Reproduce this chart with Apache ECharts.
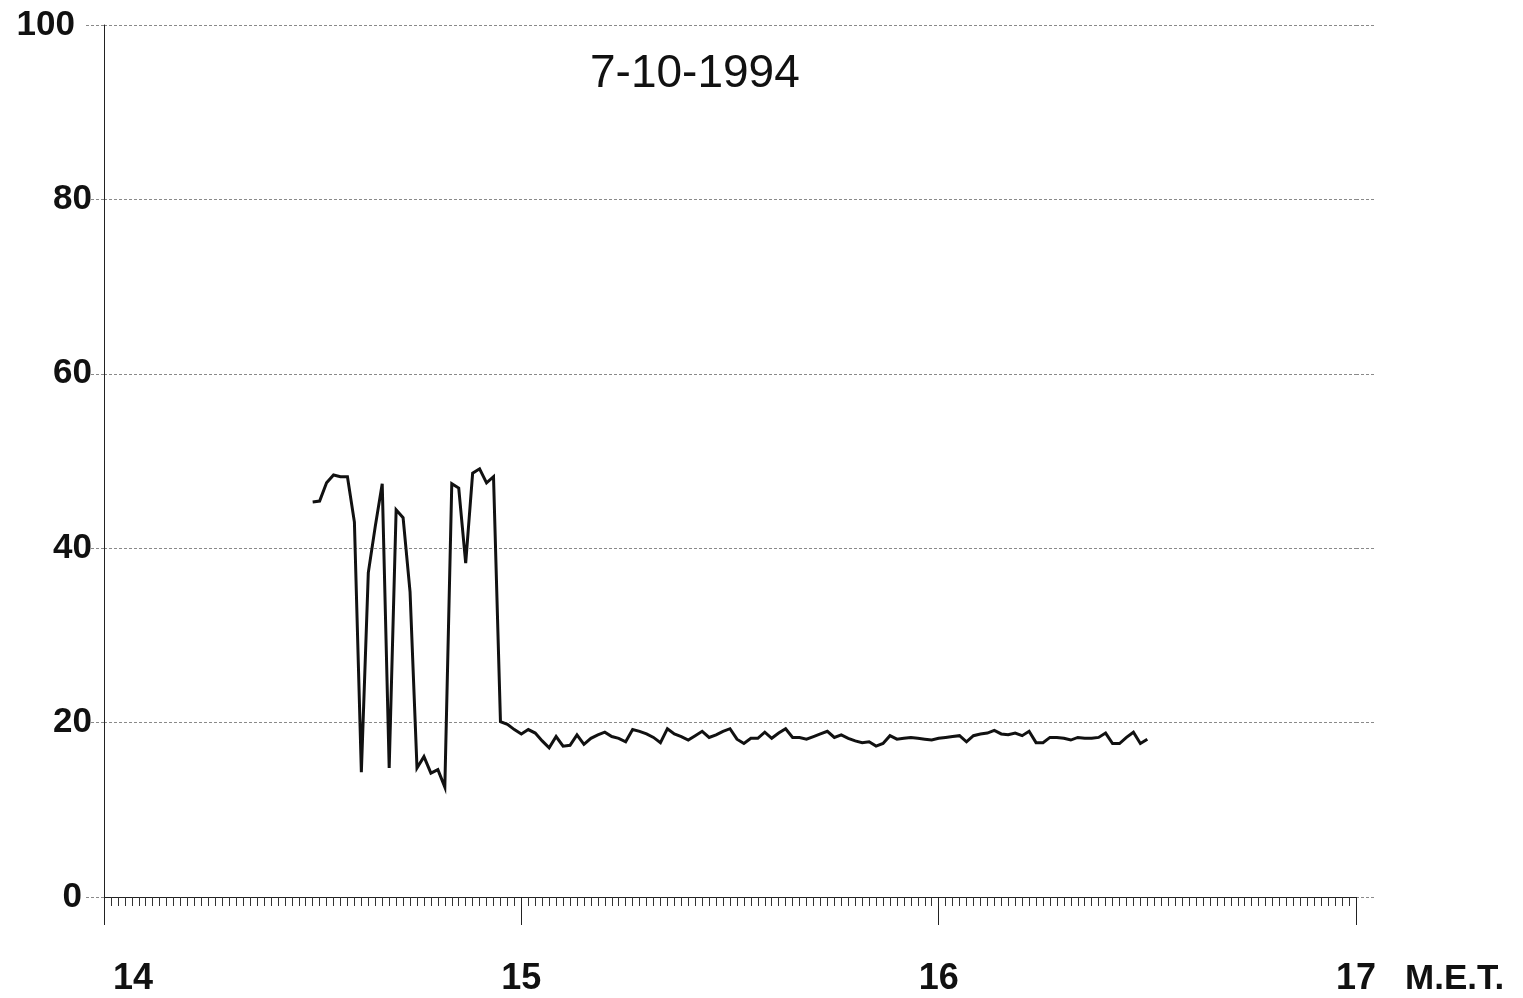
<!DOCTYPE html>
<html>
<head>
<meta charset="utf-8">
<script src="https://cdn.jsdelivr.net/npm/echarts@6/dist/echarts.min.js"></script>
<style>
html,body{margin:0;padding:0;background:#fff;}
#chart{width:1523px;height:998px;}
</style>
</head>
<body>
<div id="chart"></div>
<script>
// Title and axis texts
const titleText = '7-10-1994';
const xUnitLabel = 'M.E.T.';
const xTickLabels = [14, 15, 16, 17];
const yTickLabels = [0, 20, 40, 60, 80, 100];

// Sampling: one reading per minute starting at 14:30 M.E.T. (hours as decimal)
const startHour = 14.5;
const minutesPerHour = 60;

// Readings (one per minute, 14:30 .. 16:30)
const values = [
  45.3, 45.4, 47.5, 48.4, 48.2, 48.2, 43.0, 14.3, 37.2, 42.5,
  47.4, 14.8, 44.4, 43.5, 35.0, 14.8, 16.1, 14.2, 14.6, 12.6,
  47.4, 46.9, 38.3, 48.6, 49.1, 47.5, 48.2, 20.1, 19.8, 19.2,
  18.7, 19.2, 18.8, 17.9, 17.1, 18.4, 17.3, 17.4, 18.6, 17.5,
  18.2, 18.6, 18.9, 18.4, 18.2, 17.8, 19.2, 19.0, 18.7, 18.3,
  17.7, 19.3, 18.7, 18.4, 18.0, 18.5, 19.0, 18.3, 18.6, 19.0,
  19.3, 18.1, 17.6, 18.2, 18.2, 18.9, 18.2, 18.8, 19.3, 18.3,
  18.3, 18.1, 18.4, 18.7, 19.0, 18.3, 18.6, 18.2, 17.9, 17.7,
  17.8, 17.3, 17.6, 18.5, 18.1, 18.2, 18.3, 18.2, 18.1, 18.0,
  18.2, 18.3, 18.4, 18.5, 17.8, 18.5, 18.7, 18.8, 19.1, 18.7,
  18.6, 18.8, 18.5, 19.0, 17.7, 17.7, 18.3, 18.3, 18.2, 18.0,
  18.3, 18.2, 18.2, 18.3, 18.8, 17.6, 17.6, 18.3, 18.9, 17.6,
  18.1
];

const seriesData = values.map((v, i) => [startHour + i / minutesPerHour, v]);

const FONT = '"Liberation Sans", Arial, sans-serif';
const gridLine = { color: '#8a8a8a', width: 1, type: [3, 2] };

const chart = echarts.init(document.getElementById('chart'), null, { renderer: 'canvas' });
chart.setOption({
  animation: false,
  backgroundColor: '#fff',
  title: {
    text: titleText,
    left: 590,
    top: 51,
    padding: 0,
    textStyle: { fontFamily: FONT, fontSize: 46, fontWeight: 'normal', color: '#111' }
  },
  grid: { left: 104, right: 167, top: 25, bottom: 101, containLabel: false },
  xAxis: {
    type: 'value',
    min: xTickLabels[0],
    max: xTickLabels[xTickLabels.length - 1],
    interval: 1,
    axisLine: { show: true, onZero: false, lineStyle: { color: '#222', width: 1 } },
    axisTick: { show: true, length: 28, lineStyle: { color: '#222', width: 1 } },
    minorTick: { show: true, splitNumber: 60, length: 9, lineStyle: { color: '#333', width: 1 } },
    splitLine: { show: false },
    axisLabel: {
      margin: 64,
      fontFamily: FONT,
      fontSize: 36,
      fontWeight: 'bold',
      color: '#111',
      formatter: v => {
        if (xTickLabels.indexOf(v) < 0) return '';
        return v === xTickLabels[0] ? '{first|' + v + '}' : String(v);
      },
      rich: {
        first: { fontFamily: FONT, fontSize: 36, fontWeight: 'bold', color: '#111', padding: [0, 0, 0, 58] }
      }
    }
  },
  yAxis: [{
    type: 'value',
    min: 0,
    max: 100,
    interval: 20,
    axisLine: { show: true, lineStyle: { color: '#222', width: 1 } },
    axisTick: { show: true, length: 19, lineStyle: gridLine },
    splitLine: { show: true, lineStyle: gridLine },
    axisLabel: {
      margin: 12,
      fontFamily: FONT,
      fontSize: 35,
      fontWeight: 'bold',
      color: '#111',
      formatter: v => {
        if (yTickLabels.indexOf(v) < 0) return '';
        if (v === 100) return '{top|' + v + '}';
        if (v === 0) return '{zero|' + v + '}';
        return String(v);
      },
      rich: {
        top: { fontFamily: FONT, fontSize: 35, fontWeight: 'bold', color: '#111', padding: [0, 17, 0, 0] },
        zero: { fontFamily: FONT, fontSize: 35, fontWeight: 'bold', color: '#111', padding: [0, 10, 0, 0] }
      }
    }
  }, {
    type: 'value',
    position: 'right',
    min: 0,
    max: 100,
    interval: 20,
    axisLine: { show: false },
    axisTick: { show: true, length: 20, lineStyle: gridLine },
    axisLabel: { show: false },
    splitLine: { show: false }
  }],
  graphic: [{
    type: 'text',
    left: 1405,
    top: 962,
    style: { text: xUnitLabel, font: 'bold 35px ' + FONT, fill: '#111' }
  }],
  series: [{
    type: 'line',
    data: seriesData,
    xAxisIndex: 0,
    yAxisIndex: 0,
    showSymbol: false,
    symbol: 'none',
    lineStyle: { color: '#111', width: 3, join: 'miter' },
    z: 5
  }]
});
</script>
</body>
</html>
